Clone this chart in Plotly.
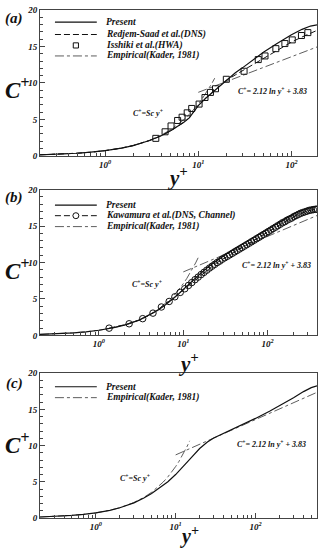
import math
import plotly.graph_objects as go

# ---------------- data ----------------
# Panel (a)
ya_present = [0.2, 0.3, 0.5, 0.7, 1, 1.5, 2, 3, 4, 5, 6, 7, 8, 10, 12, 15, 20, 25, 30, 40, 50, 70, 100, 130, 160, 188]
ca_present = [0.14, 0.21, 0.36, 0.50, 0.71, 1.06, 1.41, 2.1, 2.75, 3.4, 4.0, 4.6, 5.2, 6.9, 7.9, 9.0, 10.4, 11.4, 12.1, 13.3, 14.2, 15.4, 16.6, 17.35, 17.8, 17.95]
ya_dns = [0.2, 0.3, 0.5, 0.7, 1, 1.5, 2, 3, 4, 5, 6, 7, 8, 10, 12, 15, 20, 25, 30, 40, 50, 70, 100, 130, 160, 188]
ca_dns = [0.14, 0.21, 0.36, 0.50, 0.71, 1.06, 1.41, 2.1, 2.75, 3.4, 4.0, 4.6, 5.2, 6.9, 7.9, 9.0, 10.35, 11.1, 11.7, 12.7, 13.4, 14.5, 15.6, 16.3, 16.8, 17.2]
ya_hwa = [3.5, 4.4, 5.1, 6.0, 6.7, 7.6, 8.5, 10.2, 11.8, 13.5, 15.3, 20.0, 31, 44, 52, 68, 85, 102, 128, 150]
ca_hwa = [2.4, 3.3, 4.1, 4.85, 5.3, 5.9, 6.5, 7.1, 8.0, 8.7, 9.2, 10.5, 11.6, 13.2, 13.7, 14.7, 15.4, 15.9, 16.5, 16.9]

# Panel (b)
yb_present = [0.2, 0.3, 0.5, 0.7, 1, 1.5, 2, 3, 4, 5, 6, 7, 8, 10, 12, 15, 20, 25, 30, 40, 50, 70, 100, 150, 200, 250, 300, 350, 385]
cb_present = [0.14, 0.21, 0.36, 0.50, 0.71, 1.06, 1.41, 2.1, 2.8, 3.45, 4.1, 4.7, 5.25, 6.3, 7.2, 8.2, 9.45, 10.3, 10.9, 11.85, 12.5, 13.5, 14.6, 15.8, 16.6, 17.1, 17.45, 17.65, 17.7]
yb_dns = [1.32, 2.28, 3.3, 4.37, 5.5, 6.8, 7.95, 9.2, 10.4, 11.5, 12.6, 13.8, 15.0, 16.3, 17.6, 19.0, 20.5, 22.0,
          23.6, 25.3, 27.1, 29.0, 31.0, 33.2, 35.5, 38.0, 40.6, 43.4, 46.4, 49.6, 53.0, 56.6, 60.5, 64.6, 69.0,
          73.7, 78.7, 84.0, 89.7, 95.8, 102, 109, 116, 124, 132, 141, 150, 160, 170, 181, 193, 205, 218, 232,
          246, 261, 277, 294, 311, 329, 348, 368, 385]
cb_dns = [1.0, 1.6, 2.3, 3.06, 3.9, 4.66, 5.3, 5.9, 6.4, 6.85, 7.25, 7.65, 8.0, 8.35, 8.65, 8.95, 9.25, 9.5,
          9.75, 10.0, 10.2, 10.45, 10.65, 10.85, 11.05, 11.25, 11.45, 11.65, 11.85, 12.05, 12.25, 12.45, 12.65, 12.85, 13.05,
          13.25, 13.45, 13.65, 13.85, 14.05, 14.25, 14.45, 14.65, 14.85, 15.05, 15.25, 15.45, 15.6, 15.8, 15.95, 16.1, 16.3, 16.45, 16.6,
          16.75, 16.85, 16.95, 17.05, 17.15, 17.2, 17.25, 17.3, 17.3]

# Panel (c)
yc_present = [0.2, 0.3, 0.5, 0.7, 1, 1.5, 2, 3, 4, 5, 6, 7, 8, 10, 12, 15, 20, 25, 30, 40, 50, 70, 100, 150, 200, 300, 400, 500, 590]
cc_present = [0.14, 0.21, 0.36, 0.50, 0.71, 1.06, 1.41, 2.09, 2.75, 3.38, 3.97, 4.5, 5.0, 6.0, 6.9, 8.1, 9.6, 10.5, 11.05, 11.7, 12.15, 12.9, 13.75, 14.75, 15.5, 16.6, 17.45, 18.0, 18.25]

# Empirical (Kader, 1981): viscous sublayer C+ = Sc y+ and log law C+ = 2.12 ln y+ + 3.83
y_lin = [0.2, 0.3, 0.5, 0.7, 1, 1.5, 2, 3, 4, 5, 6, 7, 8, 9, 10, 11, 12, 13, 14, 15]
c_lin = [0.14, 0.21, 0.36, 0.50, 0.71, 1.07, 1.42, 2.13, 2.84, 3.55, 4.26, 4.97, 5.68, 6.39, 7.10, 7.81, 8.52, 9.23, 9.94, 10.65]
ya_log, ca_log = [10, 188], [8.71, 14.93]
yb_log, cb_log = [10, 385], [8.71, 16.44]
yc_log, cc_log = [10, 590], [8.71, 17.35]

xmax = {'a': 188, 'b': 385, 'c': 590}
tick_vals = [1, 10, 100]
tick_text = ["10<sup>0</sup>", "10<sup>1</sup>", "10<sup>2</sup>"]
ytick_vals = [0, 5, 10, 15, 20]

# ---------------- layout helpers ----------------
W, H = 323, 549
ML, MR, MT, MB = 40, 5, 6, 31
PW = W - ML - MR
PH = H - MT - MB
BOT = H - MB

def px(x, y):
    return (x - ML) / PW, (BOT - y) / PH

boxes = {'a': (6, 153), 'b': (187, 334), 'c': (372, 518)}
SERIF = "Liberation Serif"

fig = go.Figure()
ax_ids = {'a': ('x', 'y'), 'b': ('x2', 'y2'), 'c': ('x3', 'y3')}

LINE_COL = "#111"
EMP_COL = "#333"

def add(panel, x, y, **kw):
    xa, ya = ax_ids[panel]
    fig.add_trace(go.Scatter(x=x, y=y, xaxis=xa, yaxis=ya, showlegend=False, **kw))

# (a)
add('a', y_lin, c_lin, mode='lines', line=dict(color=EMP_COL, width=0.8, dash='dashdot'))
add('a', ya_log, ca_log, mode='lines', line=dict(color=EMP_COL, width=0.8, dash='dashdot'))
add('a', ya_dns, ca_dns, mode='lines', line=dict(color=LINE_COL, width=1, dash='6px,3px'))
add('a', ya_hwa, ca_hwa, mode='markers', marker=dict(symbol='square-open', size=6, color=LINE_COL, line=dict(width=1)))
add('a', ya_present, ca_present, mode='lines', line=dict(color=LINE_COL, width=1.2))
# (b)
add('b', y_lin, c_lin, mode='lines', line=dict(color=EMP_COL, width=0.8, dash='dashdot'))
add('b', yb_log, cb_log, mode='lines', line=dict(color=EMP_COL, width=0.8, dash='dashdot'))
add('b', yb_dns, cb_dns, mode='lines+markers', line=dict(color=LINE_COL, width=1, dash='6px,3px'),
    marker=dict(symbol='circle-open', size=6.5, color=LINE_COL, line=dict(width=1)))
add('b', yb_present, cb_present, mode='lines', line=dict(color=LINE_COL, width=1.2))
# (c)
add('c', y_lin, c_lin, mode='lines', line=dict(color=EMP_COL, width=0.8, dash='dashdot'))
add('c', yc_log, cc_log, mode='lines', line=dict(color=EMP_COL, width=0.8, dash='dashdot'))
add('c', yc_present, cc_present, mode='lines', line=dict(color=LINE_COL, width=1.2))

minor_x = [0.2, 0.3, 0.4, 0.5, 0.6, 0.7, 0.8, 0.9, 2, 3, 4, 5, 6, 7, 8, 9,
           20, 30, 40, 50, 60, 70, 80, 90, 200, 300, 400, 500, 600, 700, 800, 900]

tickfont = dict(family=SERIF, size=9, color="#111", weight="bold", style="italic")
layout = dict(width=W, height=H, margin=dict(l=ML, r=MR, t=MT, b=MB),
              paper_bgcolor="white", plot_bgcolor="white", showlegend=False)
for i, p in enumerate(['a', 'b', 'c']):
    suf = '' if i == 0 else str(i + 1)
    top, bot = boxes[p]
    dom = [(BOT - bot) / PH, (BOT - top) / PH]
    layout['xaxis' + suf] = dict(type='log', range=[math.log10(0.2), math.log10(xmax[p])],
                                 domain=[0, 1], anchor='y' + suf,
                                 showline=True, mirror=True, linecolor="#444", linewidth=1,
                                 ticks='inside', ticklen=5, tickcolor="#444",
                                 tickvals=tick_vals, ticktext=tick_text, tickfont=tickfont,
                                 minor=dict(ticks='inside', ticklen=3, tickcolor="#444", tickvals=minor_x),
                                 showgrid=False, zeroline=False)
    layout['yaxis' + suf] = dict(range=[0, 20], domain=dom, anchor='x' + suf,
                                 showline=True, mirror=True, linecolor="#444", linewidth=1,
                                 ticks='inside', ticklen=5, tickcolor="#444",
                                 tickvals=ytick_vals, tickfont=tickfont,
                                 minor=dict(ticks='inside', ticklen=3, tickcolor="#444", dtick=1),
                                 showgrid=False, zeroline=False)
fig.update_layout(**layout)

# ---------------- decorations: legends, titles, labels ----------------
anns = []
shapes = []

def ann(x, y, text, size, xanchor='center', yanchor='middle'):
    xp, yp = px(x, y)
    anns.append(dict(x=xp, y=yp, xref='paper', yref='paper', text=text, showarrow=False,
                     xanchor=xanchor, yanchor=yanchor,
                     font=dict(family=SERIF, size=size, color="#111", weight="bold", style="italic")))

def leg_line(y, dash, width=1, color=LINE_COL):
    x0, y0 = px(55, y)
    x1, _ = px(97, y)
    shapes.append(dict(type='line', xref='paper', yref='paper', x0=x0, x1=x1, y0=y0, y1=y0,
                       line=dict(color=color, width=width, dash=dash)))

def leg_square(x, y, r=2.6):
    x0, y0 = px(x - r, y + r)
    x1, y1 = px(x + r, y - r)
    shapes.append(dict(type='rect', xref='paper', yref='paper', x0=x0, x1=x1, y0=y0, y1=y1,
                       line=dict(color=LINE_COL, width=1), fillcolor='white'))

def leg_circle(x, y, r=3):
    x0, y0 = px(x - r, y + r)
    x1, y1 = px(x + r, y - r)
    shapes.append(dict(type='circle', xref='paper', yref='paper', x0=x0, x1=x1, y0=y0, y1=y1,
                       line=dict(color=LINE_COL, width=1), fillcolor='white'))

LF = 9.5
# legend (a)
rows_a = [18.3, 30.7, 41.7, 52.3]
leg_line(rows_a[0], 'solid', 1.2)
leg_line(rows_a[1], '6px,3px')
leg_square(76, rows_a[2])
leg_line(rows_a[3], 'dashdot', 0.8, EMP_COL)
for r, t in zip(rows_a, ["Present", "Redjem-Saad et al.(DNS)", "Isshiki et al.(HWA)", "Empirical(Kader, 1981)"]):
    ann(104, r, t, LF, xanchor='left')
# legend (b)
rows_b = [202.7, 213.3, 224.3]
leg_line(rows_b[0], 'solid', 1.2)
leg_line(rows_b[1], '6px,3px')
leg_circle(76, rows_b[1])
leg_line(rows_b[2], 'dashdot', 0.8, EMP_COL)
for r, t in zip(rows_b, ["Present", "Kawamura et al.(DNS, Channel)", "Empirical(Kader, 1981)"]):
    ann(104, r, t, LF, xanchor='left')
# legend (c)
rows_c = [385.7, 396.7]
leg_line(rows_c[0], 'solid', 1.2)
leg_line(rows_c[1], 'dashdot', 0.8, EMP_COL)
for r, t in zip(rows_c, ["Present", "Empirical(Kader, 1981)"]):
    ann(104, r, t, LF, xanchor='left')

# panel labels
ann(14, 15, "(a)", 15)
ann(14, 195, "(b)", 15)
ann(14, 382, "(c)", 15)

# axis titles
for yy in [85, 268, 443]:
    ann(17, yy, "C<sup>+</sup>", 23)
ann(178, 174, "y<sup>+</sup>", 21)
ann(189, 361, "y<sup>+</sup>", 21)
ann(190, 536, "y<sup>+</sup>", 20)

# formula labels
ann(148, 110, "C<sup>+</sup>=Sc y<sup>+</sup>", 8)
ann(273, 88, "C<sup>+</sup>= 2.12 ln y<sup>+</sup> + 3.83", 8)
ann(147, 282, "C<sup>+</sup>=Sc y<sup>+</sup>", 8)
ann(277, 263, "C<sup>+</sup>= 2.12 ln y<sup>+</sup> + 3.83", 8)
ann(135, 478, "C<sup>+</sup>=Sc y<sup>+</sup>", 8)
ann(272, 443, "C<sup>+</sup>= 2.12 ln y<sup>+</sup> + 3.83", 8)

fig.update_layout(annotations=anns, shapes=shapes)
fig.write_html("out.html")
